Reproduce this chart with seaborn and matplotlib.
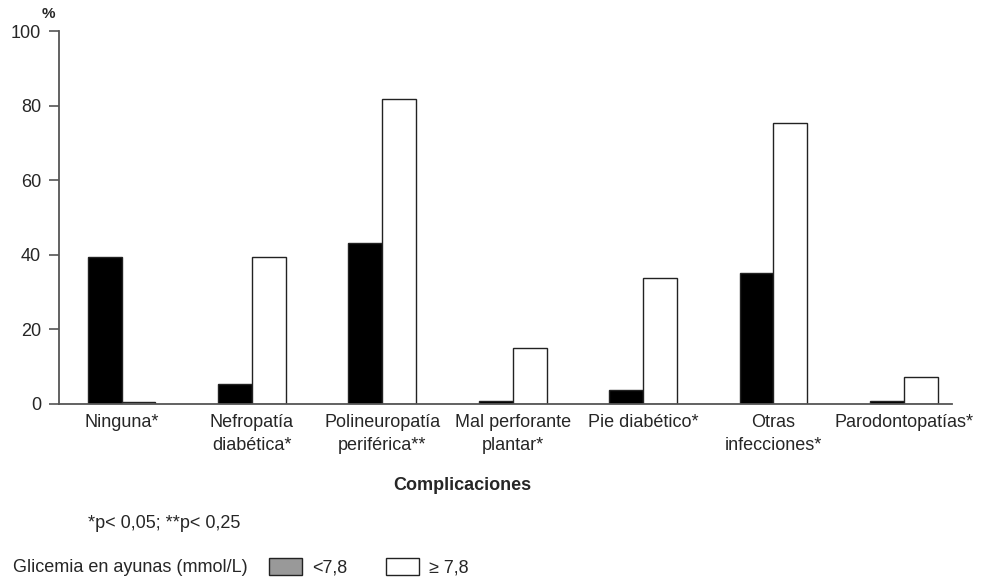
import matplotlib
matplotlib.use("Agg")
import matplotlib.pyplot as plt
import matplotlib.patches as mpatches
import pandas as pd
import seaborn as sns

# Data (% of patients)
categorias = [
    "Ninguna*",
    "Nefropatía\ndiabética*",
    "Polineuropatía\nperiférica**",
    "Mal perforante\nplantar*",
    "Pie diabético*",
    "Otras\ninfecciones*",
    "Parodontopatías*",
]
menor_78 = [39.5, 5.3, 43.2, 0.9, 3.8, 35.2, 0.7]
mayor_78 = [0.5, 39.4, 81.7, 14.9, 33.7, 75.4, 7.3]
grupos = ["<7,8", "≥ 7,8"]

df = pd.DataFrame({
    "categoria": categorias * 2,
    "valor": menor_78 + mayor_78,
    "grupo": [grupos[0]] * len(categorias) + [grupos[1]] * len(categorias),
})

sns.set_style("white")
plt.rcParams["font.family"] = ["Liberation Sans Narrow", "Liberation Sans", "DejaVu Sans"]
FS = 13

W, H = 983, 587
fig = plt.figure(figsize=(W / 100, H / 100), dpi=100)
ax = fig.add_axes([59 / W, 1 - 404 / H, (952 - 59) / W, (404 - 31) / H])

sns.barplot(
    data=df,
    x="categoria",
    y="valor",
    hue="grupo",
    order=categorias,
    hue_order=grupos,
    palette=["black", "white"],
    edgecolor="#222222",
    linewidth=1,
    width=0.52,
    legend=False,
    ax=ax,
)

ax.set_xlim(-0.48, 6.37)
ax.set_ylim(0, 100)
ax.set_yticks([0, 20, 40, 60, 80, 100])
ax.set_xlabel("")
ax.set_ylabel("")
for side in ["top", "right"]:
    ax.spines[side].set_visible(False)
for side in ["left", "bottom"]:
    ax.spines[side].set_color("#555555")
    ax.spines[side].set_linewidth(1.3)
ax.tick_params(axis="y", direction="out", length=7, width=1.2, color="#555555",
               labelsize=FS, pad=6, left=True)
ax.tick_params(axis="x", length=0, labelsize=FS, pad=7)
for lbl in ax.get_xticklabels():
    lbl.set_linespacing(1.5)

# axis titles
fig.text(48 / W, 1 - 14 / H, "%", fontsize=11, fontweight="bold", ha="center", va="center")
fig.text(462 / W, 1 - 485 / H, "Complicaciones", fontsize=FS, fontweight="bold",
         ha="center", va="center")
fig.text(88 / W, 1 - 524 / H, "*p< 0,05; **p< 0,25", fontsize=FS, ha="left", va="center")

# legend
fig.text(13 / W, 1 - 567 / H, "Glicemia en ayunas (mmol/L)", fontsize=FS, ha="left", va="center")
handles = [
    mpatches.Patch(facecolor="#999999", edgecolor="#222222", linewidth=1, label=grupos[0]),
    mpatches.Patch(facecolor="white", edgecolor="#222222", linewidth=1, label=grupos[1]),
]
fig.legend(
    handles=handles,
    loc="center left",
    bbox_to_anchor=(269 / W, 1 - 567 / H),
    ncol=2,
    frameon=False,
    fontsize=FS,
    handlelength=1.85,
    handleheight=1.1,
    handletextpad=0.55,
    columnspacing=2.1,
    borderpad=0,
    borderaxespad=0,
)

fig.savefig("out.png", dpi=100)
